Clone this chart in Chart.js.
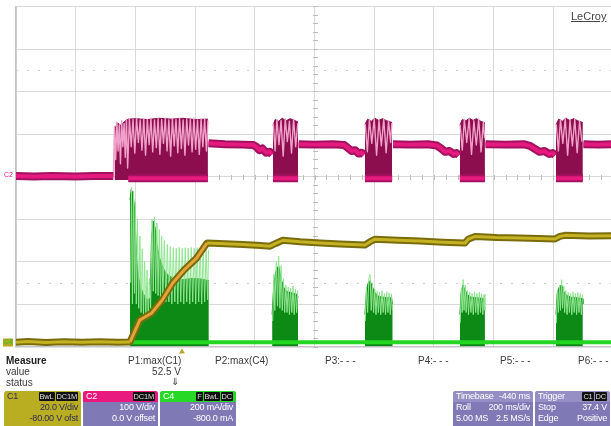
<!DOCTYPE html>
<html>
<head>
<meta charset="utf-8">
<title>LeCroy capture</title>
<script src="https://cdn.jsdelivr.net/npm/chart.js@4"></script>
<style>
  html, body { margin: 0; padding: 0; width: 611px; height: 426px; overflow: hidden; background: #fff;
    font-family: "Liberation Sans", Arial, sans-serif; }
  #plot { position: absolute; left: 0; top: 0; width: 620px; height: 356px; }
  #scope { display: block; }
  .t { position: absolute; font-size: 10px; line-height: 11px; color: #3a3a3a; white-space: nowrap; }
  .b { font-weight: bold; color: #222; }
  .logo { position: absolute; left: 571px; top: 10px; font-size: 11px; color: #444; text-decoration: underline; }
  .badge { position: absolute; top: 391px; height: 38px; border-radius: 3px; overflow: hidden;
    background: #7f79b6; color: #fff; font-size: 9px; line-height: 11px; letter-spacing: -0.2px; }
  .badge .row { position: relative; height: 11px; padding: 0 3px; }
  .badge .l { position: absolute; left: 3px; }
  .badge .r { position: absolute; right: 3px; }
  .tag { background: #111; color: #ddd; font-size: 7.5px; padding: 0 1px; margin-left: 1px; border-radius: 1px; }
</style>
</head>
<body>
<div id="plot"><canvas id="scope" width="620" height="356"></canvas></div>
<div class="logo">LeCroy</div>

<div class="t b" style="left:6px;top:355px">Measure</div>
<div class="t" style="left:6px;top:366px">value</div>
<div class="t" style="left:6px;top:377px">status</div>
<div class="t" style="left:128px;top:355px">P1:max(C1)</div>
<div class="t" style="right:430px;top:366px">52.5 V</div>
<div class="t" style="left:171px;top:376px">&#8659;</div>
<div class="t" style="left:215px;top:355px">P2:max(C4)</div>
<div class="t" style="left:325px;top:355px">P3:- - -</div>
<div class="t" style="left:418px;top:355px">P4:- - -</div>
<div class="t" style="left:500px;top:355px">P5:- - -</div>
<div class="t" style="left:578px;top:355px">P6:- - -</div>

<div class="badge" style="left:4px;width:77px;background:#b9ad22;color:#2e2c5c">
  <div class="row"><span class="l">C1</span><span class="r"><span class="tag">BwL</span><span class="tag">DC1M</span></span></div>
  <div class="row"><span class="r">20.0 V/div</span></div>
  <div class="row"><span class="r">-80.00 V ofst</span></div>
</div>
<div class="badge" style="left:83px;width:75px">
  <div class="row" style="background:#e8197f"><span class="l">C2</span><span class="r"><span class="tag">DC1M</span></span></div>
  <div class="row"><span class="r">100 V/div</span></div>
  <div class="row"><span class="r">0.0 V offset</span></div>
</div>
<div class="badge" style="left:160px;width:76px">
  <div class="row" style="background:#27d827"><span class="l">C4</span><span class="r"><span class="tag">F</span><span class="tag">BwL</span><span class="tag">DC</span></span></div>
  <div class="row"><span class="r">200 mA/div</span></div>
  <div class="row"><span class="r">-800.0 mA</span></div>
</div>
<div class="badge" style="left:453px;width:80px">
  <div class="row" style="background:#958fc6"><span class="l">Timebase</span><span class="r">-440 ms</span></div>
  <div class="row"><span class="l">Roll</span><span class="r">200 ms/div</span></div>
  <div class="row"><span class="l">5.00 MS</span><span class="r">2.5 MS/s</span></div>
</div>
<div class="badge" style="left:535px;width:75px">
  <div class="row" style="background:#958fc6"><span class="l">Trigger</span><span class="r"><span class="tag">C1</span><span class="tag">DC</span></span></div>
  <div class="row"><span class="l">Stop</span><span class="r">37.4 V</span></div>
  <div class="row"><span class="l">Edge</span><span class="r">Positive</span></div>
</div>

<script>
// Screen: 10 horizontal divisions of 200 ms (time in ms), 8 vertical divisions.
const timeRange = [0, 2000];
const divRange = [-4, 4];
const guideDivs = [2.5, -2.5];      // dotted reference lines
const triggerTime = 556;            // trigger marker under the grid

// Channel scales: C1 20 V/div, -80 V offset; C2 100 V/div, 0 offset; C4 200 mA/div, -800 mA offset
const c1Range = [0, 160];
const c2Range = [-400, 400];
const c4Range = [0, 1600];

// C1 (V): output voltage
const c1Trace = [[0,2],[40,2.3],[100,1.9],[160,2.2],[220,2],[280,2.2],[340,2],[382,2.1],[415,12.5],[455,15.8],
  [490,21.9],[525,29.9],[563,36],[605,41.6],[640,48.7],[700,48.3],[760,48],[820,47.5],[851,47.2],[870,48.5],
  [894,50],[951,49.3],[1020,48.7],[1085,48.2],[1169,47.8],[1185,49.2],[1203,50.5],[1280,50],[1353,49.6],
  [1430,49.1],[1504,48.7],[1515,50.5],[1538,51.8],[1610,51.3],[1688,51.1],[1750,50.8],[1806,50.6],[1822,51.8],
  [1839,52.3],[1920,52],[2000,52.1]];

// C2 (V): level between switching bursts
const c2Band = [[0,1],[60,0],[120,1],[200,0],[260,1],[326,1], null,
  [376,-4],[643,-4], null,
  [645,78],[700,76],[760,75],[795,74],[805,70],[815,62],[825,66],[838,56],[850,58],[858,52], null,
  [861,-4],[945,-4], null,
  [947,76],[1000,75],[1060,76],[1100,74],[1112,67],[1124,60],[1136,62],[1148,54],[1158,56],[1166,51], null,
  [1169,-4],[1260,-4], null,
  [1263,76],[1320,75],[1380,76],[1410,73],[1424,66],[1438,58],[1452,60],[1466,53],[1476,55],[1484,50], null,
  [1487,-4],[1571,-4], null,
  [1573,76],[1640,75],[1700,76],[1722,72],[1738,65],[1754,58],[1770,60],[1786,53],[1798,55],[1806,50], null,
  [1809,-4],[1899,-4], null,
  [1901,76],[1950,75],[2000,76]];

// C2 (V): upper edge of the switching bursts
const c2BurstTop = [[330,110],[340,126],[352,120],[364,130],[376,135],[400,136],[440,134],[480,137],[520,135],
  [560,137],[600,134],[643,135], null,
  [861,120],[868,134],[880,130],[892,137],[905,131],[918,136],[930,133],[945,128], null,
  [1169,122],[1178,135],[1190,130],[1202,137],[1215,132],[1228,136],[1242,131],[1260,127], null,
  [1487,120],[1495,134],[1507,131],[1519,137],[1531,132],[1543,136],[1557,130],[1571,126], null,
  [1809,121],[1818,135],[1830,130],[1842,137],[1855,132],[1868,136],[1882,131],[1899,127]];

// C2 (V): ringing spikes inside the bursts
const c2Spikes = [[326,2],[330,118],[334,40],[338,128],[342,60],[346,122],[350,30],[354,132],[358,70],[362,125],
  [366,45],[370,135],[374,20],[380,136],[386,70],[392,134],[398,55],[404,137],[410,80],[416,133],[422,62],
  [428,136],[434,50],[440,134],[446,75],[452,137],[458,58],[464,133],[470,68],[476,136],[482,52],[488,134],
  [494,78],[500,137],[506,60],[512,133],[518,48],[524,136],[530,72],[536,134],[542,56],[548,137],[554,66],
  [560,133],[566,50],[572,136],[578,74],[584,134],[590,58],[596,137],[602,64],[608,133],[614,52],[620,136],
  [626,70],[632,134],[638,60],[643,132], null,
  [862,125],[868,60],[874,134],[881,75],[888,132],[895,48],[902,136],[909,82],[916,130],[923,55],[930,135],
  [937,70],[944,126], null,
  [1170,124],[1177,58],[1184,134],[1192,78],[1200,136],[1208,50],[1216,132],[1224,72],[1232,135],[1240,56],
  [1248,131],[1255,80],[1259,126], null,
  [1488,122],[1495,62],[1502,134],[1510,80],[1518,136],[1526,52],[1534,131],[1542,74],[1550,135],[1558,58],
  [1566,128],[1570,90], null,
  [1810,123],[1817,60],[1824,134],[1832,78],[1840,137],[1848,50],[1856,132],[1864,72],[1872,135],[1880,56],
  [1888,130],[1896,82]];

// C4 (mA): current baseline
const c4Base = [[0,20],[2000,20]];

// C4 (mA): solid body of the current bursts
const c4BurstBody = [[382,690],[386,740],[392,720],[398,640],[404,420],[410,330],[418,280],[426,250],[434,230],
  [442,220],[450,230],[454,520],[460,590],[466,560],[472,480],[480,420],[490,380],[500,350],[515,330],[535,320],
  [560,315],[590,320],[620,318],[646,310], null,
  [858,150],[864,300],[872,360],[880,380],[888,320],[896,280],[906,260],[918,255],[930,250],[942,245],[945,230], null,
  [1169,150],[1174,260],[1180,300],[1186,310],[1194,280],[1204,250],[1216,235],[1230,232],[1245,230],[1258,228],[1262,200], null,
  [1487,150],[1491,250],[1497,290],[1503,270],[1512,245],[1524,232],[1538,230],[1552,228],[1566,226],[1571,200], null,
  [1809,150],[1813,250],[1820,280],[1828,290],[1835,260],[1845,240],[1858,232],[1872,230],[1886,228],[1898,225],[1899,200]];

// C4 (mA): current spikes inside the bursts
const c4Spikes = [[384,300],[387,750],[390,200],[394,730],[397,250],[400,680],[403,200],[407,600],[411,180],
  [415,520],[419,160],[423,460],[427,150],[431,400],[435,140],[439,360],[443,130],[447,320],[451,180],[456,600],
  [460,260],[464,610],[468,250],[472,580],[476,240],[480,550],[484,230],[488,520],[492,220],[497,500],[502,210],
  [507,480],[512,210],[517,470],[522,200],[527,465],[532,210],[537,462],[542,200],[547,466],[552,210],[557,462],
  [562,200],[567,465],[572,210],[577,463],[582,200],[587,466],[592,210],[597,462],[602,200],[607,465],[612,210],
  [617,462],[622,200],[627,464],[632,210],[637,460],[642,220],[645,455], null,
  [860,120],[864,340],[867,170],[872,400],[876,190],[880,425],[884,180],[888,380],[892,170],[896,320],[900,160],
  [904,290],[908,160],[912,280],[916,150],[920,275],[924,160],[928,285],[932,150],[936,270],[940,160],[944,265], null,
  [1170,120],[1174,280],[1178,160],[1182,320],[1186,340],[1190,170],[1194,300],[1198,160],[1202,270],[1206,150],
  [1210,260],[1214,160],[1218,255],[1222,150],[1226,262],[1230,160],[1234,250],[1238,150],[1242,258],[1246,160],
  [1250,252],[1254,150],[1258,248],[1261,170], null,
  [1488,110],[1492,270],[1495,160],[1498,315],[1501,170],[1505,290],[1508,160],[1512,265],[1516,150],[1520,255],
  [1524,160],[1528,250],[1532,150],[1536,258],[1540,160],[1544,250],[1548,150],[1552,255],[1556,160],[1560,248],
  [1564,150],[1568,245],[1571,170], null,
  [1810,110],[1814,260],[1817,160],[1821,290],[1824,170],[1828,315],[1831,180],[1835,285],[1838,160],[1842,262],
  [1846,150],[1850,255],[1854,160],[1858,250],[1862,150],[1866,258],[1870,160],[1874,250],[1878,150],[1882,255],
  [1886,160],[1890,248],[1894,150],[1898,245]];

// [t, v] pairs -> Chart.js points; null breaks the trace
function toPoints(list) {
  let lastX = 0;
  return list.map(p => {
    if (p === null) return { x: lastX, y: null };
    lastX = p[0];
    return { x: p[0], y: p[1] };
  });
}

const base = { pointRadius: 0, tension: 0, spanGaps: false, borderJoinStyle: 'round' };

// grid extras: dotted guides, centre-cross ticks, channel markers, trigger marker
const scopeDecor = {
  id: 'scopeDecor',
  beforeDatasetsDraw(chart) {
    const { ctx, chartArea: a, scales } = chart;
    const x = scales.x, yd = scales.yDiv;
    ctx.save();
    ctx.strokeStyle = '#cdcdcd';
    ctx.lineWidth = 1;
    ctx.setLineDash([2, 9]);
    guideDivs.forEach(d => {
      const y = Math.round(yd.getPixelForValue(d)) + 0.5;
      ctx.beginPath(); ctx.moveTo(a.left, y); ctx.lineTo(a.right, y); ctx.stroke();
    });
    ctx.setLineDash([]);
    const cx = Math.round(x.getPixelForValue((timeRange[0] + timeRange[1]) / 2)) + 0.5;
    const cy = Math.round(yd.getPixelForValue(0)) + 0.5;
    ctx.strokeStyle = '#bdbdbd';
    ctx.beginPath();
    const tStep = (timeRange[1] - timeRange[0]) / 50;
    for (let t = timeRange[0]; t <= timeRange[1]; t += tStep) {
      const px = Math.round(x.getPixelForValue(t)) + 0.5;
      ctx.moveTo(px, cy - 2.5); ctx.lineTo(px, cy + 2.5);
    }
    for (let d = divRange[0]; d <= divRange[1] + 1e-9; d += 0.2) {
      const py = Math.round(yd.getPixelForValue(d)) + 0.5;
      ctx.moveTo(cx - 2.5, py); ctx.lineTo(cx + 2.5, py);
    }
    ctx.stroke();
    ctx.restore();
  },
  afterDatasetsDraw(chart) {
    const { ctx, chartArea: a, scales } = chart;
    ctx.save();
    ctx.font = '7px "Liberation Sans", Arial, sans-serif';
    ctx.textBaseline = 'middle';
    ctx.fillStyle = '#e3197f';
    ctx.fillText('C2', 4, scales.yC2.getPixelForValue(0) - 1);
    const y4 = scales.yC4.getPixelForValue(0) - 4;
    ctx.fillStyle = '#b5a822';
    ctx.fillRect(3, y4 - 4, 10, 8);
    ctx.fillStyle = '#22c822';
    ctx.fillText('C4', 4, y4);
    const tx = scales.x.getPixelForValue(triggerTime);
    ctx.fillStyle = '#b8a52a';
    ctx.beginPath();
    ctx.moveTo(tx - 3, a.bottom + 7); ctx.lineTo(tx + 3, a.bottom + 7); ctx.lineTo(tx, a.bottom + 2);
    ctx.closePath(); ctx.fill();
    ctx.restore();
  }
};

new Chart(document.getElementById('scope'), {
  type: 'line',
  data: {
    datasets: [
      { ...base, data: toPoints(c1Trace), yAxisID: 'yC1', order: 0, borderWidth: 3,
        segment: { borderColor: c => (c.p1.parsed.y - c.p0.parsed.y > 3 ? '#e5a43a' : '#c4b222') } },
      { ...base, data: toPoints(c1Trace), yAxisID: 'yC1', order: 1, borderWidth: 7, borderColor: '#7a6c0c' },
      { ...base, data: toPoints(c4Base), yAxisID: 'yC4', order: 2, borderWidth: 4, borderColor: '#22d622' },
      { ...base, data: toPoints(c4Spikes), yAxisID: 'yC4', order: 3, borderWidth: 1, borderColor: '#8fe68f' },
      { ...base, data: toPoints(c4BurstBody), yAxisID: 'yC4', order: 4, borderWidth: 1, borderColor: '#0d8a16',
        backgroundColor: '#0d8a16', fill: { value: 0 } },
      { ...base, data: toPoints(c2Band), yAxisID: 'yC2', order: 5, borderWidth: 4, borderColor: '#e6197f' },
      { ...base, data: toPoints(c2Band), yAxisID: 'yC2', order: 6, borderWidth: 8, borderColor: '#a3125f' },
      { ...base, data: toPoints(c2Spikes), yAxisID: 'yC2', order: 7, borderWidth: 1.4, borderColor: '#f0a0c9' },
      { ...base, data: toPoints(c2BurstTop), yAxisID: 'yC2', order: 8, borderWidth: 1, borderColor: '#8c0e4e',
        backgroundColor: '#8c0e4e', fill: { value: -8 } }
    ]
  },
  options: {
    responsive: false,
    maintainAspectRatio: false,
    animation: false,
    events: [],
    layout: { padding: { left: 16, right: 7, top: 6.5, bottom: 9.5 } },
    plugins: { legend: { display: false }, tooltip: { enabled: false } },
    scales: {
      x: { type: 'linear', min: timeRange[0], max: timeRange[1],
        ticks: { display: false, stepSize: 200 },
        grid: { color: '#d9d9d9', drawTicks: false },
        border: { color: '#c4c4c4', width: 1.5 } },
      yDiv: { position: 'left', min: divRange[0], max: divRange[1],
        ticks: { display: false, stepSize: 1 },
        grid: { color: '#d9d9d9', drawTicks: false },
        border: { color: '#c4c4c4', width: 1.5 } },
      yC1: { display: false, min: c1Range[0], max: c1Range[1] },
      yC2: { display: false, min: c2Range[0], max: c2Range[1] },
      yC4: { display: false, min: c4Range[0], max: c4Range[1] }
    }
  },
  plugins: [scopeDecor]
});
</script>
</body>
</html>
